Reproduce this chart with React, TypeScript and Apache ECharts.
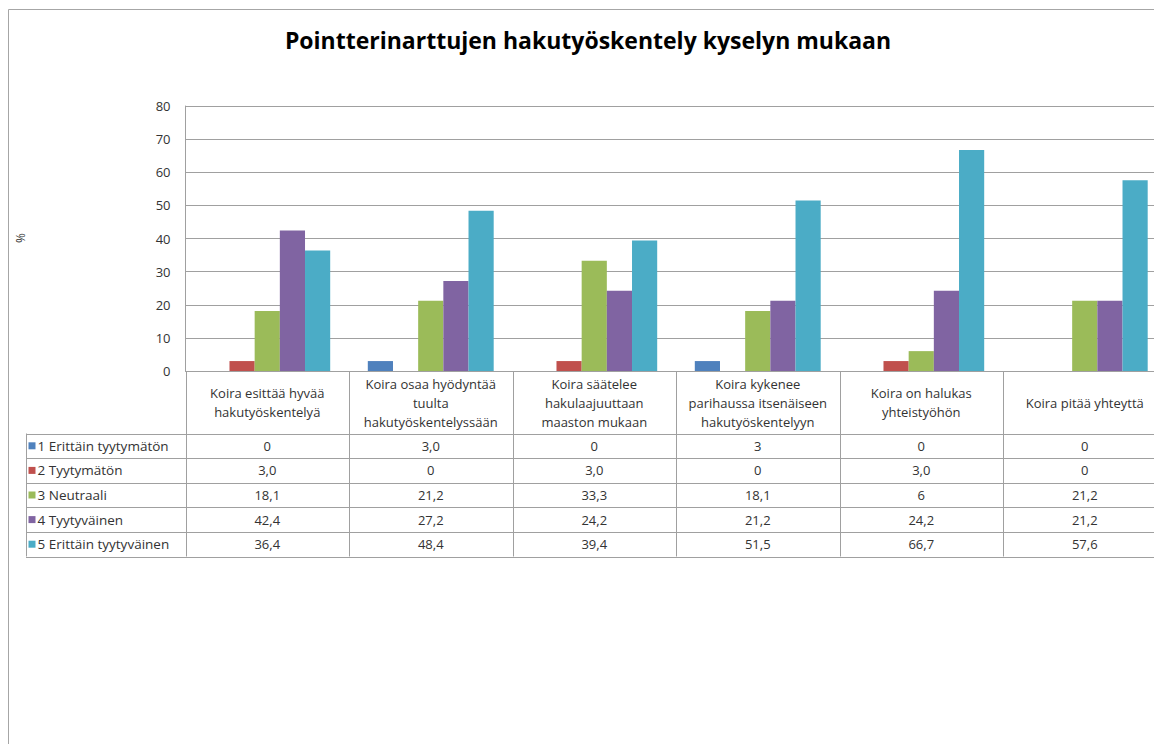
import React, { useEffect, useRef } from "react";
import * as echarts from "echarts";

const title = "Pointterinarttujen hakutyöskentely kyselyn mukaan";
const categories = [
  "Koira esittää hyvää\nhakutyöskentelyä",
  "Koira osaa hyödyntää\ntuulta\nhakutyöskentelyssään",
  "Koira säätelee\nhakulaajuuttaan\nmaaston mukaan",
  "Koira kykenee\nparihaussa itsenäiseen\nhakutyöskentelyyn",
  "Koira on halukas\nyhteistyöhön",
  "Koira pitää yhteyttä",
];
const seriesNames = [
  "1 Erittäin tyytymätön",
  "2 Tyytymätön",
  "3 Neutraali",
  "4 Tyytyväinen",
  "5 Erittäin tyytyväinen",
];
// values as shown in the data table
const s1 = ["0", "3,0", "0", "3", "0", "0"];
const s2 = ["3,0", "0", "3,0", "0", "3,0", "0"];
const s3 = ["18,1", "21,2", "33,3", "18,1", "6", "21,2"];
const s4 = ["42,4", "27,2", "24,2", "21,2", "24,2", "21,2"];
const s5 = ["36,4", "48,4", "39,4", "51,5", "66,7", "57,6"];
const seriesTexts = [s1, s2, s3, s4, s5];
const colors = ["#4F81BD", "#C0504D", "#9BBB59", "#8064A2", "#4BACC6"];
const yTicks = { min: 0, max: 80, interval: 10 };
const yAxisTitle = "%";

const FONT = "'Open Sans', 'Noto Sans', sans-serif";

export default function App() {
  const ref = useRef<HTMLDivElement>(null);
  useEffect(() => {
    if (!ref.current) return;
    document.body.style.overflow = "hidden";
    const chart = echarts.init(ref.current, undefined, { renderer: "svg" });
    const W = 1200;
    const H = 744;
    const gridLeft = 185.5;
    const plotRight = 1166.5;
    const gridRight = W - plotRight;
    const gridTop = 106;
    const axisY = 371;
    const plotW = plotRight - gridLeft;
    const colW = plotW / categories.length;
    const headerBottom = 433.5;
    const rowH = 24.6;
    const tableLeft = 26;
    const tableRight = W;
    const lineColor = "#a0a0a0";
    const tableBottom = headerBottom + rowH * seriesNames.length;
    const textColor = "#333";

    const values = seriesTexts.map((arr) => arr.map((s) => parseFloat(s.replace(",", "."))));

    const graphics: any[] = [];
    graphics.push({
      type: "rect",
      shape: { x: 8.5, y: 9.5, width: 1300, height: 900 },
      style: { fill: "none", stroke: "#a6a6a6", lineWidth: 1 },
      silent: true,
    });
    graphics.push({
      type: "text",
      x: 20,
      y: 238,
      rotation: Math.PI / 2,
      style: { text: yAxisTitle, font: `12px ${FONT}`, fill: textColor, align: "center", verticalAlign: "middle" },
    });
    for (let r = 0; r <= seriesNames.length; r++) {
      const y = Math.round(headerBottom + rowH * r) + 0.5;
      graphics.push({
        type: "line",
        shape: { x1: tableLeft, y1: y, x2: tableRight, y2: y },
        style: { stroke: lineColor, lineWidth: 1 },
      });
    }
    graphics.push({
      type: "line",
      shape: { x1: tableLeft + 0.5, y1: headerBottom, x2: tableLeft + 0.5, y2: tableBottom },
      style: { stroke: lineColor, lineWidth: 1 },
    });
    for (let c = 0; c <= categories.length; c++) {
      const x = Math.round(gridLeft + colW * c) + 0.5;
      graphics.push({
        type: "line",
        shape: { x1: x, y1: axisY, x2: x, y2: tableBottom },
        style: { stroke: lineColor, lineWidth: 1 },
      });
    }
    seriesNames.forEach((name, r) => {
      const cy = headerBottom + rowH * r + rowH / 2;
      graphics.push({
        type: "rect",
        shape: { x: 28.5, y: cy - 3.5, width: 7, height: 7 },
        style: { fill: colors[r] },
      });
      graphics.push({
        type: "text",
        x: 37.5,
        y: cy,
        style: { text: name, font: `13.5px ${FONT}`, fill: textColor, align: "left", verticalAlign: "middle" },
      });
      seriesTexts[r].forEach((t, c) => {
        graphics.push({
          type: "text",
          x: gridLeft + colW * c + colW / 2,
          y: cy,
          style: { text: t, font: `13px ${FONT}`, fill: textColor, align: "center", verticalAlign: "middle" },
        });
      });
    });

    chart.setOption({
      animation: false,
      backgroundColor: "#fff",
      title: {
        text: title,
        left: 583,
        textAlign: "center",
        top: 23,
        textStyle: { fontFamily: FONT, fontSize: 23, fontWeight: "bold", color: "#000" },
      },
      grid: { left: gridLeft, right: gridRight, top: gridTop, bottom: H - axisY, containLabel: false },
      xAxis: {
        type: "category",
        data: categories,
        axisTick: { show: false },
        axisLine: { lineStyle: { color: lineColor } },
        axisLabel: {
          interval: 0,
          margin: 31.5,
          verticalAlign: "middle",
          lineHeight: 19,
          fontFamily: FONT,
          fontSize: 13,
          color: textColor,
        },
      },
      yAxis: {
        type: "value",
        min: yTicks.min,
        max: yTicks.max,
        interval: yTicks.interval,
        axisLine: { show: true, lineStyle: { color: lineColor } },
        axisTick: { show: false },
        splitLine: { lineStyle: { color: lineColor } },
        axisLabel: { margin: 15, fontFamily: FONT, fontSize: 13, color: textColor },
      },
      series: seriesNames.map((name, i) => ({
        name,
        type: "bar",
        data: values[i],
        barGap: "0%",
        barCategoryGap: "23%",
        itemStyle: { color: colors[i] },
      })),
      graphic: graphics,
    });
    return () => chart.dispose();
  }, []);
  return (
    <div
      ref={ref}
      style={{ position: "fixed", left: 0, top: 0, width: 1200, height: 744, background: "#fff" }}
    />
  );
}
